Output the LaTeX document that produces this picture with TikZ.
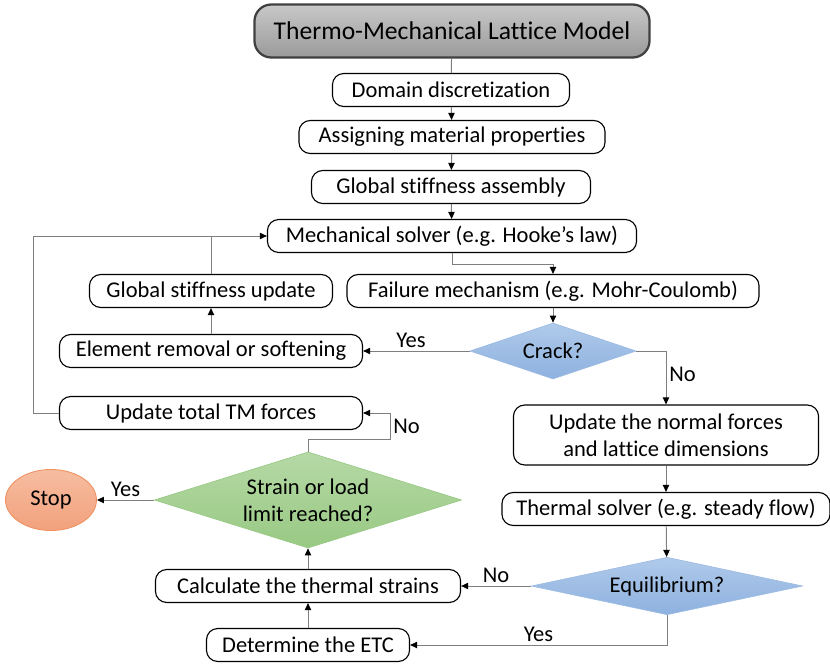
\documentclass[tikz,border=0pt]{standalone}
\usepackage{fontspec}
\setmainfont{Carlito}[Ligatures=NoCommon]
\usetikzlibrary{arrows.meta,shapes.geometric}
\definecolor{tmink}{HTML}{000000}
\definecolor{tmline}{HTML}{7F7F7F}
\definecolor{tmgraytop}{HTML}{C8C8C8}
\definecolor{tmgraybot}{HTML}{9A9A9A}
\definecolor{tmgrayrim}{HTML}{404040}
\definecolor{tmbluetop}{HTML}{B0CAEA}
\definecolor{tmbluebot}{HTML}{8DB1DF}
\definecolor{tmbluerim}{HTML}{9DBCE4}
\definecolor{tmgreentop}{HTML}{B6D9A6}
\definecolor{tmgreenbot}{HTML}{98C983}
\definecolor{tmorangetop}{HTML}{F6BDA0}
\definecolor{tmorangebot}{HTML}{F2A17D}
\definecolor{tmorangerim}{HTML}{F0905E}
\tikzset{
  tmbox/.style   ={rectangle, rounded corners=8pt, draw=tmink, fill=white,
                   line width=0.8pt, minimum height=0.825cm, inner sep=2pt,
                   align=center, font=\fontsize{16}{19}\selectfont, text=tmink},
  tmtitle/.style ={tmbox, rounded corners=12pt, top color=tmgraytop, bottom color=tmgraybot,
                   draw=tmgrayrim, line width=1.6pt, minimum height=1.325cm,
                   font=\fontsize{18.2}{22}\selectfont},
  tmask/.style   ={diamond, inner sep=0pt, aspect=3, align=center,
                   font=\fontsize{16}{19}\selectfont, text=tmink},
  tmaskblue/.style ={tmask, top color=tmbluetop, bottom color=tmbluebot, draw=tmbluerim, line width=0.5pt},
  tmaskgreen/.style={tmask, top color=tmgreentop, bottom color=tmgreenbot, draw=tmgreenbot, line width=0.5pt},
  tmstop/.style  ={ellipse, top color=tmorangetop, bottom color=tmorangebot, draw=tmorangerim,
                   line width=0.6pt, minimum width=2.275cm, minimum height=1.525cm,
                   font=\fontsize{16}{19}\selectfont, text=tmink},
  tmlink/.style  ={draw=tmline, line width=0.7pt},
  tmarrow/.style ={tmlink, -{Triangle[length=5pt,width=4.5pt,color=tmink]}},
  tmlbl/.style   ={font=\fontsize{16}{19}\selectfont, text=tmink, inner sep=2pt},
}

\begin{document}
\begin{tikzpicture}[x=0.025cm, y=-0.025cm]
  \useasboundingbox (0,0) rectangle (830,665);
  % main column
  \node[tmtitle, minimum width=9.875cm] (title) at (452,31) {Thermo-Mechanical Lattice Model};
  \node[tmbox, minimum width=5.925cm] (domain) at (451,90) {Domain discretization};
  \node[tmbox, minimum width=7.65cm] (assign) at (452,137) {Assigning material properties};
  \node[tmbox, minimum width=6.975cm] (gsa) at (451,187) {Global stiffness assembly};
  \node[tmbox, minimum width=9.225cm] (mech) at (452,236) {Mechanical solver (e.g. Hooke’s law)};
  \node[tmbox, minimum width=10.3cm] (fail) at (553,291) {Failure mechanism (e.g. Mohr-Coulomb)};
  \node[tmaskblue, minimum width=4.15cm, minimum height=1.4cm] (crack) at (553,351) {Crack?};
  % left loop
  \node[tmbox, minimum width=6.075cm] (gsu) at (211,291) {Global stiffness update};
  \node[tmbox, minimum width=7.575cm] (elem) at (211,351) {Element removal or softening};
  \node[tmbox, minimum width=7.575cm] (tmf) at (211,413) {Update total TM forces};
  % thermal part
  \node[tmbox, minimum width=7.625cm, minimum height=1.5cm] (upd) at (666,435)
       {Update the normal forces\\and lattice dimensions};
  \node[tmbox, minimum width=8.2cm] (therm) at (666,509) {Thermal solver (e.g. steady flow)};
  \node[tmaskblue, minimum width=6.775cm, minimum height=1.35cm] (equil) at (667,586) {Equilibrium?};
  \node[tmbox, minimum width=7.625cm] (calc) at (308,586) {Calculate the thermal strains};
  \node[tmbox, minimum width=5.075cm] (etc) at (308,645) {Determine the ETC};
  \node[tmaskgreen, minimum width=7.675cm, minimum height=2.4cm] (strain) at (308,500)
       {Strain or load\\limit reached?};
  \node[tmstop] (stop) at (51,500) {Stop};

  \draw[tmlink] (title) -- (domain);
  \draw[tmarrow] (domain) -- (assign);
  \draw[tmarrow] (assign) -- (gsa);
  \draw[tmarrow] (gsa) -- (mech);
  \draw[tmarrow] (mech.south) -- ++(0,11) -| (fail.north);
  \draw[tmarrow] (fail) -- (crack);
  \draw[tmarrow] (crack.west) -- node[tmlbl, above, pos=0.55] {Yes} (elem.east);
  \draw[tmarrow] (crack.east) -| node[tmlbl, right, pos=0.72] {No} (upd.north);
  \draw[tmarrow] (elem) -- (gsu);
  \draw[tmlink] (gsu.north) -- (gsu.north |- mech.west);
  \draw[tmarrow] (tmf.west) -- ++(-25,0) |- (mech.west);
  \draw[tmarrow] (upd) -- (therm);
  \draw[tmarrow] (therm) -- (equil);
  \draw[tmarrow] (equil.west) -- node[tmlbl, above] {No} (calc.east);
  \draw[tmarrow] (equil.south) |- node[tmlbl, above, pos=0.75] {Yes} (etc.east);
  \draw[tmarrow] (etc) -- (calc);
  \draw[tmarrow] (calc) -- (strain);
  \draw[tmarrow] (strain.west) -- node[tmlbl, above] {Yes} (stop.east);
  \draw[tmarrow] (strain.north) -- ++(0,-12) -- ++(82,0) |- node[tmlbl, right, pos=0.25] {No} (tmf.east);
\end{tikzpicture}
\end{document}
